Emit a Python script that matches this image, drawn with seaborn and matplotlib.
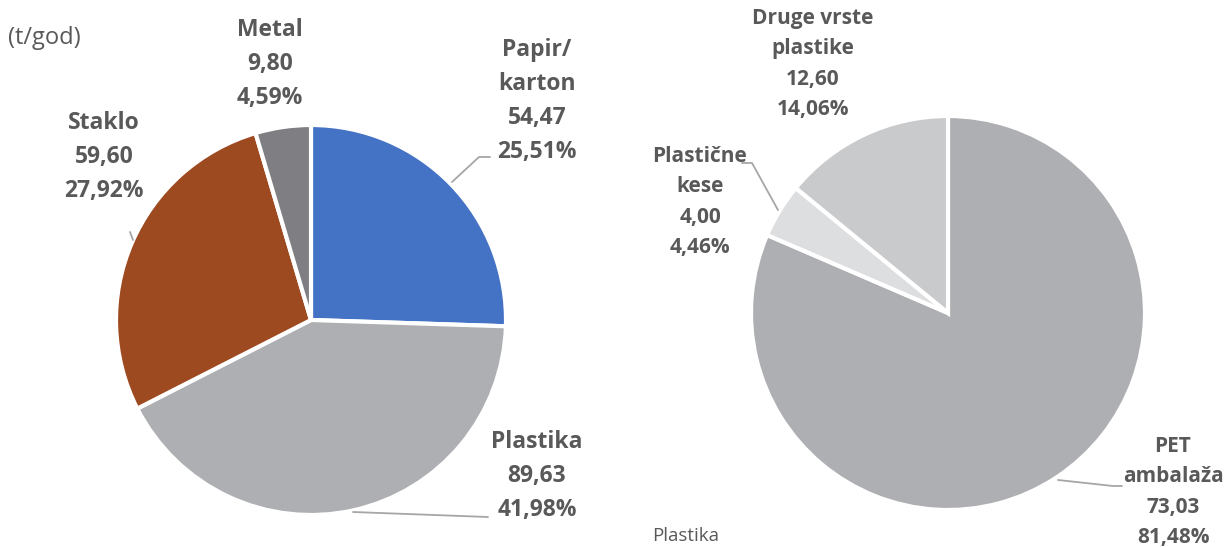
import matplotlib
matplotlib.use("Agg")
import matplotlib.pyplot as plt
import seaborn as sns

# Data (t/god)
left_labels = ["Papir/\nkarton", "Plastika", "Staklo", "Metal"]
left_values = [54.47, 89.63, 59.60, 9.80]
left_colors = ["#4472C4", "#AEAFB3", "#9E4A20", "#7F7F83"]

right_labels = ["PET\nambalaža", "Plastične\nkese", "Druge vrste\nplastike"]
right_values = [73.03, 4.00, 12.60]
right_colors = ["#AEAFB2", "#DDDEE0", "#C9CACC"]

sns.set_theme(style="white")
plt.rcParams["font.family"] = ["Open Sans", "DejaVu Sans"]

TXT = "#595959"
LINE = "#A6A6A6"
H = 547


def fmt(v):
    return f"{v:.2f}".replace(".", ",")


def label_text(name, v, total):
    return f"{name}\n{fmt(v)}\n{fmt(v / total * 100)}%"


fig = plt.figure(figsize=(12.27, 5.47), dpi=100)
ax = fig.add_axes([0, 0, 1, 1])

wp = dict(edgecolor="white", linewidth=3)
ax.pie(left_values, colors=left_colors, startangle=90, counterclock=False,
       center=(311, H - 320), radius=195, wedgeprops=wp, frame=True)
ax.pie(right_values, colors=right_colors, startangle=90, counterclock=False,
       center=(948, H - 313), radius=197, wedgeprops=wp, frame=True)
ax.set_xlim(0, 1227)
ax.set_ylim(0, H)
ax.set_aspect("equal")
ax.axis("off")

# label positions (pixel centres) and leader lines
left_pos = [(537, 101), (537, 476), (104, 157), (270, 64)]
right_pos = [(1173, 492), (700, 202), (813, 64)]

lt, rt = sum(left_values), sum(right_values)
for name, v, (x, y) in zip(left_labels, left_values, left_pos):
    ax.text(x, H - y, label_text(name, v, lt), ha="center", va="center",
            fontsize=16.5, fontweight="bold", color=TXT, linespacing=1.55)
for name, v, (x, y) in zip(right_labels, right_values, right_pos):
    ax.text(x, H - y, label_text(name, v, rt), ha="center", va="center",
            fontsize=15, fontweight="bold", color=TXT, linespacing=1.58)

leaders = [
    [(452, 182), (479, 157), (490, 157)],
    [(353, 512), (488, 517)],
    [(130, 232), (133, 240)],
    [(742, 163), (752, 163), (778, 210)],
    [(1058, 480), (1113, 486), (1122, 486)],
]
for pts in leaders:
    ax.plot([p[0] for p in pts], [H - p[1] for p in pts], color=LINE, lw=1.3)

ax.text(8, H - 38, "(t/god)", ha="left", va="center", fontsize=17, color=TXT)
ax.text(652, H - 536, "Plastika", ha="left", va="center", fontsize=13.5, color=TXT)

fig.savefig("out.png", dpi=100)
